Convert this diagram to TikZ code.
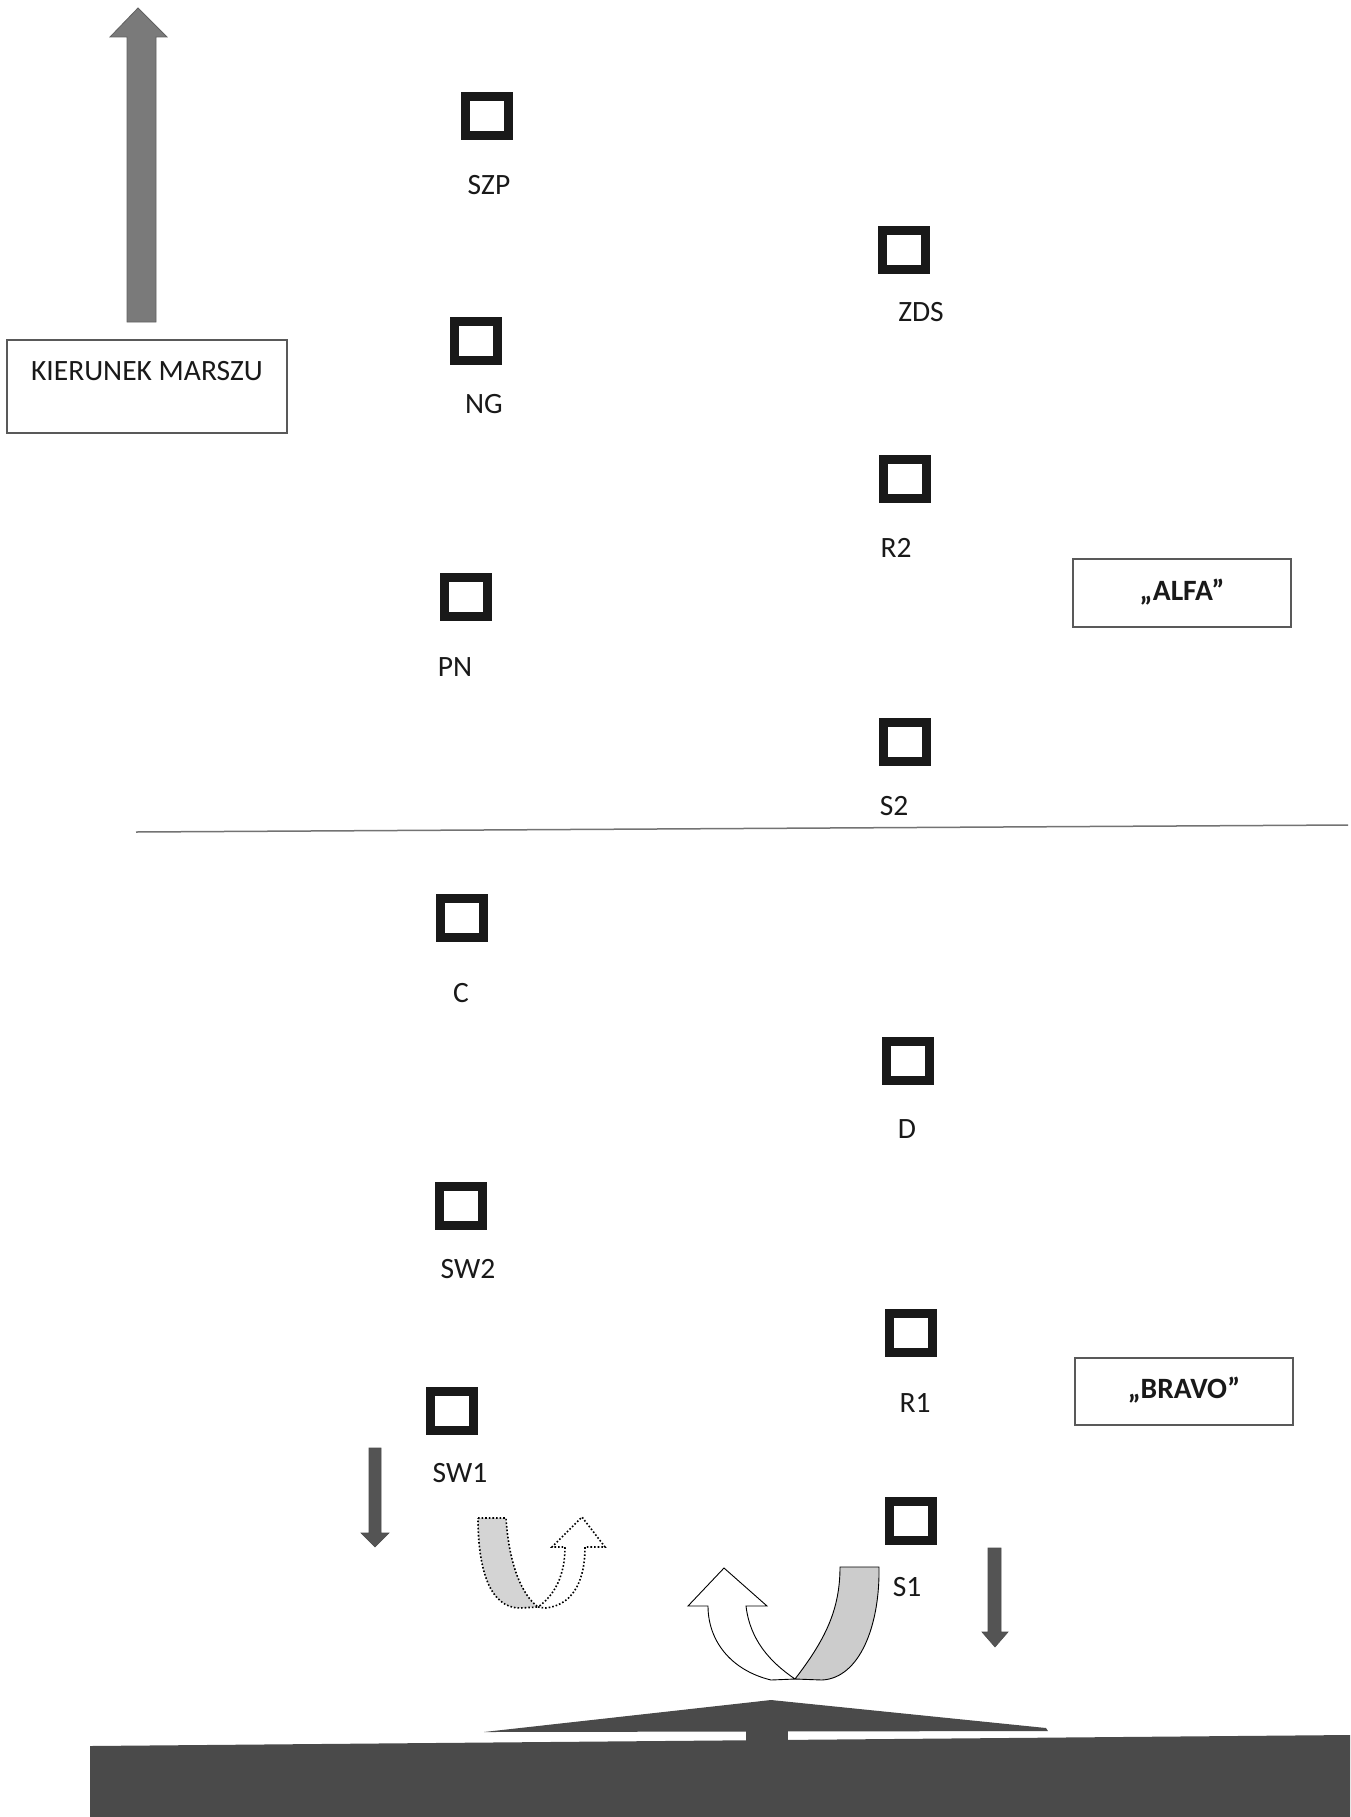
\documentclass[tikz,border=0pt]{standalone}
\usepackage{fontspec}
\setmainfont{Carlito}
\begin{document}
\begin{tikzpicture}[x=1pt,y=-1pt,
  post/.style={draw=black!90, line width=8.5pt, minimum width=43pt, minimum height=39pt, inner sep=0pt},
  lbl/.style={font=\fontsize{29.5}{32}\selectfont, anchor=base, inner sep=0pt, text=black!90},
  boxlbl/.style={font=\fontsize{29.5}{32}\selectfont\bfseries, anchor=base, inner sep=0pt, text=black!90},
  frame/.style={draw=black!65, line width=1.5pt},
  toparrow/.style={fill=black!52, draw=black!62, line width=0.8pt},
  downarrow/.style={fill=black!67, draw=black!70, line width=0.6pt},
  bandgray/.style={fill=black!20, draw=black, line width=0.9pt},
  bandwhite/.style={fill=white, draw=black, line width=0.9pt},
  dotgray/.style={fill=black!17, draw=black, line width=1.6pt, dotted},
  dotwhite/.style={fill=white, draw=black, line width=1.6pt, dotted},
  ground/.style={fill=black!71}]
\useasboundingbox (0,0) rectangle (1350,1817);
\fill[white] (0,0) rectangle (1350,1817);

% direction arrow and box
\filldraw[toparrow] (127,322) -- (127,37) -- (110,37) -- (138,8) -- (167,37) -- (156,37) -- (156,322) -- cycle;
\draw[frame] (7,340) rectangle (287,433);
\node[lbl] (kier) at (147,380) {KIERUNEK MARSZU};

% ALFA / BRAVO boxes
\draw[frame] (1073,559) rectangle (1291,627);
\node[boxlbl] (alfa) at (1182,600) {„ALFA”};
\draw[frame] (1075,1358) rectangle (1293,1425);
\node[boxlbl] (bravo) at (1184,1398) {„BRAVO”};

% separator
\draw[draw=black!55, line width=1.5pt] (136,832) -- (1348,825);

% posts
\node[post] (szp) at (487,116) {};
\node[lbl] (szpl) at (489,194) {SZP};
\node[post] (zds) at (904,250) {};
\node[lbl] (zdsl) at (921,321) {ZDS};
\node[post] (ng) at (476,341) {};
\node[lbl] (ngl) at (484,413) {NG};
\node[post] (r2) at (905,479) {};
\node[lbl] (r2l) at (896,557) {R2};
\node[post] (pn) at (466,597) {};
\node[lbl] (pnl) at (455,676) {PN};
\node[post] (s2) at (905,742) {};
\node[lbl] (s2l) at (894,815) {S2};
\node[post] (c) at (462,918) {};
\node[lbl] (cl) at (461,1002) {C};
\node[post] (d) at (908,1061) {};
\node[lbl] (dl) at (907,1138) {D};
\node[post] (sw2) at (461,1206) {};
\node[lbl] (sw2l) at (468,1278) {SW2};
\node[post] (r1) at (911,1333) {};
\node[lbl] (r1l) at (915,1412) {R1};
\node[post] (sw1) at (452,1411) {};
\node[lbl] (sw1l) at (460,1482) {SW1};
\node[post] (s1) at (911,1521) {};
\node[lbl] (s1l) at (907,1596) {S1};

% dark down arrows
\filldraw[downarrow] (369,1448) -- (381,1448) -- (381,1533) -- (389,1533) -- (375,1547) -- (361,1533) -- (369,1533) -- cycle;
\filldraw[downarrow] (988,1548) -- (1001,1548) -- (1001,1632) -- (1008,1632) -- (995,1647) -- (982,1632) -- (988,1632) -- cycle;

% small dotted U-turn arrow
\filldraw[dotwhite] (538,1607) -- (545,1608) .. controls (570,1606) and (585,1585) .. (585,1547) -- (605,1547) -- (582,1517) -- (552,1547) -- (565,1547) .. controls (565,1575) and (555,1595) .. (538,1607) -- cycle;
\filldraw[dotgray] (478,1518) -- (506,1518) .. controls (509,1565) and (522,1595) .. (538,1607) -- (520,1608) .. controls (490,1608) and (478,1570) .. (478,1518) -- cycle;

% large U-turn arrow
\filldraw[bandwhite] (795,1679) -- (771,1680) .. controls (730,1670) and (708,1640) .. (708,1606) -- (688,1606) -- (724,1568) -- (767,1606) -- (746,1606) .. controls (750,1640) and (770,1662) .. (795,1679) -- cycle;
\filldraw[bandgray] (840,1567) -- (879,1567) .. controls (880,1625) and (860,1678) .. (822,1680) -- (795,1679) .. controls (825,1640) and (840,1610) .. (840,1567) -- cycle;

% ground / ramp
\fill[ground] (90,1746) -- (1350,1735) -- (1350,1817) -- (90,1817) -- cycle;
\fill[ground] (746,1746) rectangle (788,1728);
\fill[ground] (484,1732) -- (771,1700) -- (1046,1728) -- (1048,1731) -- cycle;
\end{tikzpicture}
\end{document}
